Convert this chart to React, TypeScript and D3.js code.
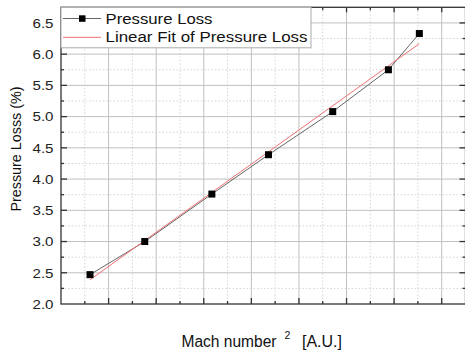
import React from 'react';
import * as d3 from 'd3';

// Mach number^2 (arbitrary units, axis has no tick labels)
const machSq = [0.61, 1.76, 3.17, 4.36, 5.71, 6.88, 7.53];
// Pressure loss (%)
const pressureLoss = [2.47, 3.0, 3.76, 4.39, 5.08, 5.75, 6.33];

const yMajorTicks = [2.0, 2.5, 3.0, 3.5, 4.0, 4.5, 5.0, 5.5, 6.0, 6.5];
const xMajorTicks = [0, 1, 2, 3, 4, 5, 6, 7, 8];

const legendLabels = ['Pressure Loss', 'Linear Fit of Pressure Loss'];
const yTitle = 'Pressure Losss (%)';

const W = 465;
const H = 353;
const margin = { left: 61, top: 7.3, right: 465.5, bottom: 304 };
const font = 'Arial, "Liberation Sans", sans-serif';

function linearFit(xs: number[], ys: number[]) {
  const mx = d3.mean(xs) as number;
  const my = d3.mean(ys) as number;
  let sxy = 0;
  let sxx = 0;
  xs.forEach((x, i) => {
    sxy += (x - mx) * (ys[i] - my);
    sxx += (x - mx) * (x - mx);
  });
  const slope = sxy / sxx;
  return (x: number) => my + slope * (x - mx);
}

export default function App() {
  const x = d3.scaleLinear().domain([0, 8.5]).range([margin.left, margin.right]);
  const y = d3.scaleLinear().domain([2.0, 6.75]).range([margin.bottom, margin.top]);

  const xMinor = xMajorTicks.map((t) => t + 0.5).filter((t) => t < 8.5);
  const yMinor = yMajorTicks.map((t) => t + 0.25).filter((t) => t < 6.75);

  const points = machSq.map((m, i) => [m, pressureLoss[i]] as [number, number]);
  const line = d3.line<[number, number]>().x((d) => x(d[0])).y((d) => y(d[1]));
  const fit = linearFit(machSq, pressureLoss);
  const fitPts: [number, number][] = [
    [machSq[0], fit(machSq[0])],
    [machSq[machSq.length - 1], fit(machSq[machSq.length - 1])],
  ];

  const axisColor = '#333';

  return (
    <svg width={W} height={H} style={{ position: 'absolute', left: 0, top: 0, background: '#fff' }}>
      <rect x={0} y={0} width={W} height={H} fill="#fff" />
      {/* minor grid */}
      {xMinor.map((t) => (
        <line key={'xm' + t} x1={x(t)} x2={x(t)} y1={margin.top} y2={margin.bottom}
          stroke="#d4d4d4" strokeWidth={1} strokeDasharray="1.5,2" />
      ))}
      {yMinor.map((t) => (
        <line key={'ym' + t} x1={margin.left} x2={margin.right} y1={y(t)} y2={y(t)}
          stroke="#d4d4d4" strokeWidth={1} strokeDasharray="1.5,2" />
      ))}
      {/* major grid */}
      {xMajorTicks.filter((t) => t > 0).map((t) => (
        <line key={'xg' + t} x1={x(t)} x2={x(t)} y1={margin.top} y2={margin.bottom}
          stroke="#c0c0c0" strokeWidth={1} />
      ))}
      {yMajorTicks.filter((t) => t > 2).map((t) => (
        <line key={'yg' + t} x1={margin.left} x2={margin.right} y1={y(t)} y2={y(t)}
          stroke="#c0c0c0" strokeWidth={1} />
      ))}

      {/* data line and fit */}
      <path d={line(points) || ''} fill="none" stroke="#666" strokeWidth={1} />
      <path d={line(fitPts) || ''} fill="none" stroke="#f07070" strokeWidth={1} />
      {points.map((p, i) => (
        <rect key={'p' + i} x={x(p[0]) - 3.5} y={y(p[1]) - 3.5} width={7} height={7} fill="#000" />
      ))}

      {/* frame */}
      <rect x={margin.left} y={margin.top} width={margin.right - margin.left}
        height={margin.bottom - margin.top} fill="none" stroke={axisColor} strokeWidth={1.3} />

      {/* ticks, all inward */}
      {xMajorTicks.filter((t) => t > 0).map((t) => (
        <g key={'xt' + t}>
          <line x1={x(t)} x2={x(t)} y1={margin.bottom} y2={margin.bottom - 6} stroke={axisColor} strokeWidth={1.3} />
          <line x1={x(t)} x2={x(t)} y1={margin.top} y2={margin.top + 5} stroke={axisColor} strokeWidth={1.3} />
        </g>
      ))}
      {xMinor.map((t) => (
        <g key={'xmt' + t}>
          <line x1={x(t)} x2={x(t)} y1={margin.bottom} y2={margin.bottom - 3} stroke={axisColor} strokeWidth={1.3} />
          <line x1={x(t)} x2={x(t)} y1={margin.top} y2={margin.top + 3} stroke={axisColor} strokeWidth={1.3} />
        </g>
      ))}
      {yMajorTicks.filter((t) => t > 2).map((t) => (
        <g key={'yt' + t}>
          <line x1={margin.left} x2={margin.left + 6} y1={y(t)} y2={y(t)} stroke={axisColor} strokeWidth={1.3} />
          <line x1={margin.right} x2={margin.right - 6} y1={y(t)} y2={y(t)} stroke={axisColor} strokeWidth={1.3} />
        </g>
      ))}
      {yMinor.map((t) => (
        <g key={'ymt' + t}>
          <line x1={margin.left} x2={margin.left + 3} y1={y(t)} y2={y(t)} stroke={axisColor} strokeWidth={1.3} />
          <line x1={margin.right} x2={margin.right - 3} y1={y(t)} y2={y(t)} stroke={axisColor} strokeWidth={1.3} />
        </g>
      ))}

      {/* y tick labels */}
      {yMajorTicks.map((t) => (
        <text key={'yl' + t} transform={`translate(53.5,${y(t) + 4.8}) scale(1.12,1)`}
          textAnchor="end" fontFamily={font} fontSize={13.5} fill="#222">
          {t.toFixed(1)}
        </text>
      ))}

      {/* legend */}
      <rect x={margin.left} y={margin.top} width={250} height={40.5} fill="#fff" stroke="#aaa" strokeWidth={1} />
      <line x1={63} x2={101} y1={18.5} y2={18.5} stroke="#666" strokeWidth={1} />
      <rect x={79} y={15.3} width={6.5} height={6.5} fill="#000" />
      <text x={105.5} y={23.5} fontFamily={font} fontSize={15.5} fill="#111"
        textLength={107} lengthAdjust="spacingAndGlyphs">{legendLabels[0]}</text>
      <line x1={63} x2={101} y1={37.3} y2={37.3} stroke="#f07070" strokeWidth={1} />
      <text x={105.5} y={42} fontFamily={font} fontSize={15.5} fill="#111"
        textLength={202} lengthAdjust="spacingAndGlyphs">{legendLabels[1]}</text>

      {/* axis titles */}
      <text transform="translate(21,149) rotate(-90)" textAnchor="middle"
        fontFamily={font} fontSize={15.5} fill="#111" textLength={125}
        lengthAdjust="spacingAndGlyphs">{yTitle}</text>
      <text x={181.5} y={346.5} fontFamily={font} fontSize={15.8} fill="#111"
        textLength={95} lengthAdjust="spacingAndGlyphs">Mach number</text>
      <text x={284.5} y={338.5} fontFamily={font} fontSize={10.5} fill="#111">2</text>
      <text x={302} y={346.5} fontFamily={font} fontSize={15.8} fill="#111"
        textLength={40} lengthAdjust="spacingAndGlyphs">[A.U.]</text>
    </svg>
  );
}
